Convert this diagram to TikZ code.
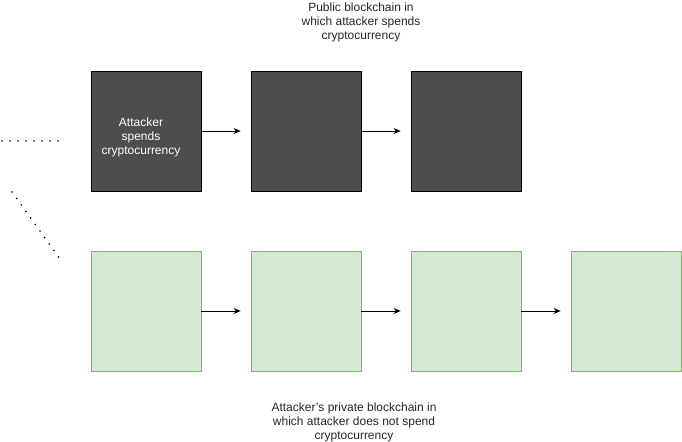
\documentclass[tikz,border=0pt]{standalone}
\usepackage{fontspec}
\setmainfont{Liberation Sans}
\usetikzlibrary{arrows.meta}
\definecolor{darkfill}{HTML}{4D4D4D}
\definecolor{greenfill}{HTML}{D5E8D4}
\definecolor{greendraw}{HTML}{82B366}
\begin{document}
\begin{tikzpicture}[x=1bp,y=-1bp,
  darkblock/.style={draw=black,fill=darkfill,minimum width=110bp,minimum height=120bp,inner sep=0pt,line width=0.8bp},
  blocklabel/.style={text=white,align=center,font=\fontsize{12bp}{14bp}\selectfont,inner sep=0pt},
  greenblock/.style={draw=greendraw,fill=greenfill,minimum width=110bp,minimum height=120bp,inner sep=0pt,line width=0.8bp},
  link/.style={draw=black,line width=0.8bp,-{Stealth[length=7bp,width=6bp]}},
  dotline/.style={draw=black,line width=1.8bp,line cap=round,dash pattern=on 0bp off 8bp},
  caption/.style={align=center,font=\fontsize{12bp}{14bp}\selectfont,text=black!85}]
\useasboundingbox (0,0) rectangle (682,442);
\node[darkblock] (d1) at (146,131) {};
\node[blocklabel] (d1l) at (141,137) {Attacker\\spends\\cryptocurrency};
\node[darkblock] (d2) at (306,131) {};
\node[darkblock] (d3) at (466,131) {};
\node[greenblock] (g1) at (146,311) {};
\node[greenblock] (g2) at (306,311) {};
\node[greenblock] (g3) at (466,311) {};
\node[greenblock] (g4) at (626,311) {};
\draw[link] (d1.east) -- ([xshift=-10bp]d2.west);
\draw[link] (d2.east) -- ([xshift=-10bp]d3.west);
\draw[link] (g1.east) -- ([xshift=-10bp]g2.west);
\draw[link] (g2.east) -- ([xshift=-10bp]g3.west);
\draw[link] (g3.east) -- ([xshift=-10bp]g4.west);
\coordinate (h1) at (2,141);
\coordinate (h2) at (60,141);
\coordinate (k1) at (12,192);
\coordinate (k2) at (60,259);
\draw[dotline] (h1) -- (h2);
\draw[dotline] (k1) -- (k2);
\node[caption] (top) at (361,22) {Public blockchain in\\which attacker spends\\cryptocurrency};
\node[caption] (bot) at (354,422) {Attacker\symbol{39}s private blockchain in\\which attacker does not spend\\cryptocurrency};
\end{tikzpicture}
\end{document}
